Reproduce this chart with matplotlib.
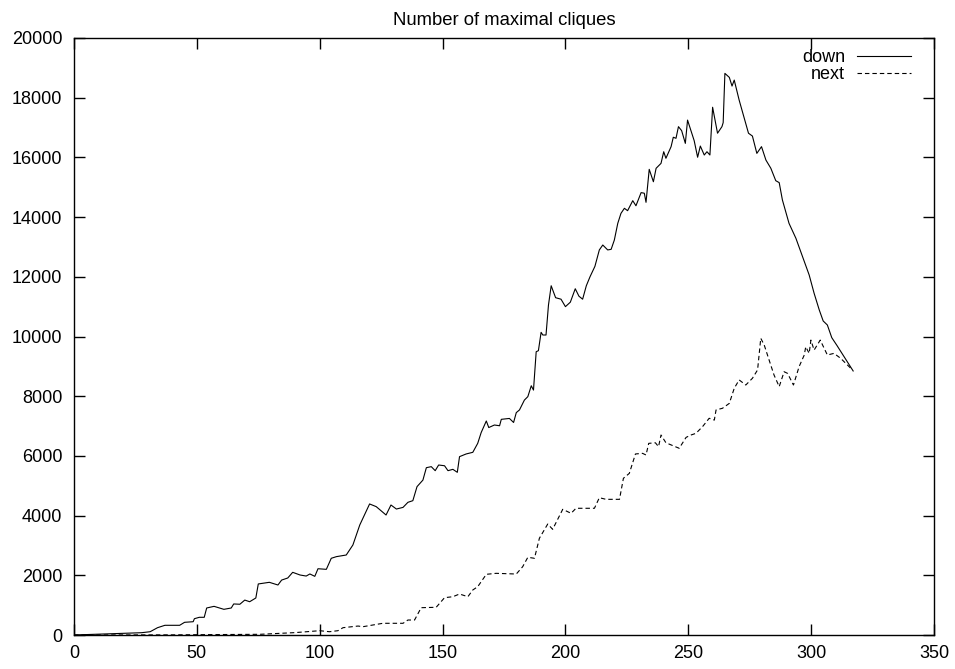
import matplotlib
matplotlib.use("Agg")
from matplotlib import pyplot as plt
from matplotlib.ticker import MultipleLocator

# "down" series
down_x = [0, 20, 27.5, 31, 34, 37, 43, 45, 48.5, 49, 51, 53, 54, 57, 61, 64, 65,
          67.5, 69.5, 71.5, 74, 75, 79.5, 83, 84.5, 87, 89, 92, 94.5, 96, 98,
          99.3, 102.7, 104.7, 106.8, 110.8, 113.5, 116.3, 120.3, 123, 127, 129,
          131.2, 133.9, 135.9, 137.9, 139.6, 142, 143.4, 145.4, 147, 148.4,
          150.8, 152.2, 154.2, 156, 156.9, 159.6, 162.3, 164.3, 165.7, 167.8,
          168.8, 171.1, 173.2, 173.9, 177.2, 178.9, 180, 181.3, 183.3, 184.7,
          186.1, 187, 188.1, 189, 190.1, 190.8, 192.1, 193.1, 194.2, 196, 198.2,
          200, 202, 204, 205.5, 207, 208.5, 210, 212, 213.8, 215.2, 217.2,
          218.6, 219.9, 221.3, 222.6, 224, 225.3, 227.4, 228.7, 230.8, 232.1,
          232.8, 234.1, 235.8, 236.9, 238.9, 240, 240.9, 243, 243.9, 245, 246,
          247.3, 248.8, 249.7, 252.4, 253.8, 254.9, 256.5, 257.6, 258.8, 259.9,
          261.9, 263.7, 264.2, 264.9, 266.7, 267.8, 268.7, 270.7, 272.8, 274.5,
          276.1, 277.9, 279.8, 281.6, 283.6, 285.6, 287, 288.3, 291, 293.8,
          296.5, 299.2, 301.2, 303.3, 304.9, 306.6, 308.4, 310.5, 313.4, 317.1]
down_y = [0, 57, 77, 110, 245, 325, 325, 425, 445, 546, 593, 593, 905, 960,
          860, 905, 1040, 1030, 1170, 1115, 1240, 1710, 1765, 1675, 1840, 1910,
          2100, 2010, 1975, 2045, 1965, 2220, 2200, 2570, 2625, 2680, 3015,
          3685, 4390, 4300, 4020, 4355, 4220, 4275, 4445, 4500, 4970, 5190,
          5605, 5640, 5505, 5695, 5670, 5505, 5550, 5450, 5975, 6065, 6120,
          6420, 6780, 7170, 6950, 7035, 7010, 7225, 7255, 7120, 7450, 7540,
          7870, 7985, 8350, 8205, 9490, 9525, 10140, 10050, 10050, 11055, 11700,
          11300, 11250, 11000, 11150, 11600, 11350, 11250, 11700, 12000, 12350,
          12900, 13065, 12900, 12920, 13230, 13790, 14125, 14295, 14215, 14550,
          14380, 14820, 14800, 14495, 15600, 15185, 15635, 15800, 16190, 15970,
          16360, 16675, 16640, 17030, 16895, 16470, 17250, 16560, 16005, 16380,
          16080, 16190, 16080, 17680, 16810, 17030, 17165, 18815, 18680, 18390,
          18590, 17920, 17310, 16810, 16715, 16135, 16360, 15910, 15635, 15220,
          15155, 14575, 13790, 13290, 12675, 12060, 11450, 10890, 10520, 10385,
          9960, 9700, 9325, 8845]

# "next" series
next_x = [0, 40, 75.6, 90, 100, 104, 107.4, 109.5, 115.6, 117.6, 125.7, 133.9,
          135.9, 138.6, 141.3, 147.4, 150.8, 154.2, 156.9, 160.3, 162.3, 164.3,
          167.8, 171.8, 180, 182.6, 184.7, 187.4, 189.4, 192.8, 194.8, 198.9,
          202.3, 204.3, 211.8, 213.8, 216.5, 222, 223.6, 226, 228.5, 231.4,
          232.8, 233.9, 236.6, 237.9, 238.9, 240.9, 246.3, 249.1, 251.1, 253.1,
          255.8, 258.5, 260.6, 261.3, 263.9, 266.7, 268.7, 270.7, 273.4, 276.1,
          278.2, 279.5, 280.9, 282.9, 284.9, 287, 289, 290.4, 292.8, 295.1,
          297.2, 297.8, 299.2, 299.9, 301.2, 303.7, 306.6, 309.3, 312, 316.8]
next_y = [0, 5, 23, 80, 144, 110, 144, 245, 300, 278, 392, 392, 502, 502, 915,
          928, 1250, 1283, 1373, 1283, 1508, 1618, 2033, 2066, 2043, 2288, 2603,
          2570, 3240, 3718, 3540, 4210, 4077, 4245, 4245, 4600, 4545, 4545,
          5250, 5415, 6065, 6085, 6030, 6420, 6440, 6310, 6700, 6440, 6255,
          6620, 6700, 6755, 6980, 7260, 7200, 7540, 7595, 7760, 8265, 8545,
          8375, 8600, 8880, 9940, 9715, 9210, 8710, 8320, 8820, 8765, 8375,
          8990, 9380, 9655, 9435, 9880, 9545, 9880, 9380, 9435, 9270, 8880]

plt.rcParams["font.family"] = ["Liberation Sans", "DejaVu Sans"]

fig = plt.figure(figsize=(9.55, 6.69), dpi=100)
ax = fig.add_axes([74 / 955, 34 / 669, 860 / 955, 597 / 669])

ax.plot(down_x, down_y, c="k", lw=0.8, label="down")
ax.plot(next_x, next_y, c="k", lw=0.8, dashes=(4, 2.7), label="next")

ax.set_xlim(0, 350)
ax.set_ylim(0, 20000)
ax.xaxis.set_major_locator(MultipleLocator(50))
ax.yaxis.set_major_locator(MultipleLocator(2000))
ax.tick_params(direction="in", length=8, width=1, top=True, right=True,
               labelsize=13)
ax.tick_params(axis="y", pad=8.5)
ax.tick_params(axis="x", pad=7)
for s in ax.spines.values():
    s.set_linewidth(1)

ax.set_title("Number of maximal cliques", fontsize=13.3, pad=9.5)
ax.legend(loc="upper right", bbox_to_anchor=(1 - 12 / 860, 1), frameon=False,
          markerfirst=False, fontsize=13, handlelength=3.0,
          borderaxespad=0.4, labelspacing=0.0, handletextpad=0.65,
          borderpad=0.2)

fig.savefig("out.png", dpi=100)
